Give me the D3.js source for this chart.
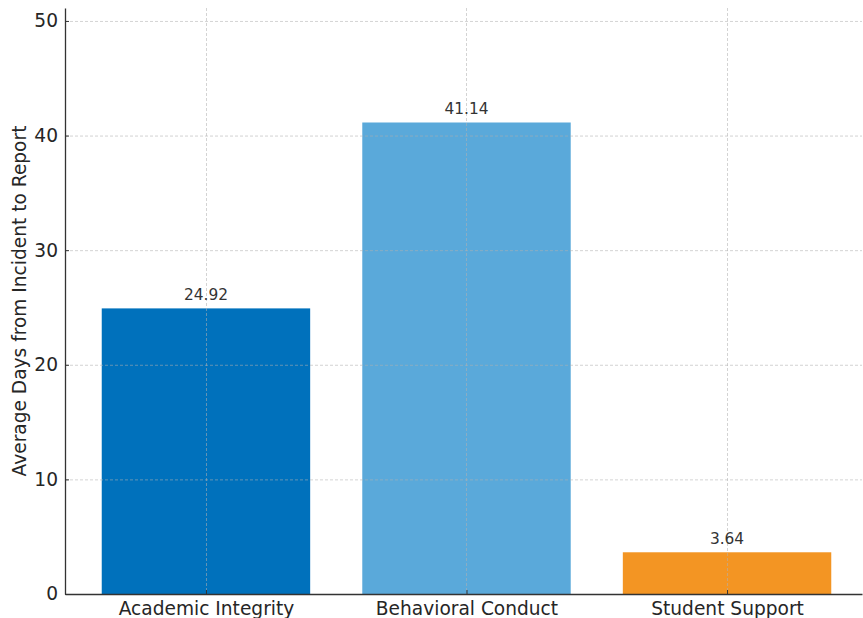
<!DOCTYPE html>
<html>
<head>
<meta charset="utf-8">
<script src="https://cdn.jsdelivr.net/npm/d3@7"></script>
<style>
  html, body { margin: 0; padding: 0; background: #fff; }
  svg { display: block; font-family: "DejaVu Sans", sans-serif; }
</style>
</head>
<body>
<svg id="chart" width="863" height="618"></svg>
<script>
// Average reporting delay per case category
const categories = ["Academic Integrity", "Behavioral Conduct", "Student Support"];
const avgDays = [24.92, 41.14, 3.64];
const barColors = ["#0071bc", "#5aa9da", "#f39523"];
const yTicks = [0, 10, 20, 30, 40, 50];

const svg = d3.select("#chart");
const margin = { left: 65, right: 1, top: 8, bottom: 24 };
const W = 863, H = 618;
const plotBottom = H - margin.bottom;

// Category positions on a continuous index axis, bars 0.8 wide
const x = d3.scaleLinear()
  .domain([-0.541, 2.518])
  .range([margin.left, W - margin.right]);
const y = d3.scaleLinear()
  .domain([0, 51.13])
  .range([plotBottom, margin.top]);

const idx = categories.map((c, i) => i);

// Bars
svg.append("g").selectAll("rect")
  .data(idx)
  .join("rect")
  .attr("x", i => x(i - 0.4))
  .attr("width", i => x(i + 0.4) - x(i - 0.4))
  .attr("y", i => y(avgDays[i]))
  .attr("height", i => y(0) - y(avgDays[i]))
  .attr("fill", i => barColors[i]);

// Dashed grid over the bars
const grid = svg.append("g")
  .attr("stroke", "#b0b0b0")
  .attr("stroke-opacity", 0.7)
  .attr("stroke-width", 0.8)
  .attr("stroke-dasharray", "3,2");
grid.selectAll("line.h")
  .data(yTicks.filter(t => t > 0))
  .join("line")
  .attr("x1", margin.left).attr("x2", W - margin.right)
  .attr("y1", d => y(d) + 0.5).attr("y2", d => y(d) + 0.5);
grid.selectAll("line.v")
  .data(idx)
  .join("line")
  .attr("x1", i => Math.round(x(i)) + 0.5).attr("x2", i => Math.round(x(i)) + 0.5)
  .attr("y1", margin.top).attr("y2", plotBottom);

// Axes with inward ticks
const yAxis = d3.axisLeft(y).tickValues(yTicks).tickSizeInner(-4).tickSizeOuter(0).tickPadding(7);
const xAxis = d3.axisBottom(x).tickValues(idx).tickFormat(i => categories[i])
  .tickSizeInner(-4).tickSizeOuter(0).tickPadding(5);

const gy = svg.append("g")
  .attr("transform", `translate(${margin.left},0)`)
  .call(yAxis);
const gx = svg.append("g")
  .attr("transform", `translate(0,${plotBottom})`)
  .call(xAxis);

[gy, gx].forEach(g => {
  g.select(".domain").attr("stroke", "#333").attr("stroke-width", 1.3);
  g.selectAll(".tick line").attr("stroke", "#333").attr("stroke-width", 1);
  g.selectAll(".tick text")
    .attr("fill", "#262626")
    .attr("font-size", 18.6)
    .attr("font-family", "DejaVu Sans, sans-serif");
});
gx.selectAll(".tick text").attr("dy", "0.85em");

// Value labels above bars
svg.append("g").selectAll("text")
  .data(idx)
  .join("text")
  .attr("x", i => x(i))
  .attr("y", i => y(avgDays[i]) - 8)
  .attr("text-anchor", "middle")
  .attr("font-size", 15.4)
  .attr("fill", "#333")
  .text(i => avgDays[i].toFixed(2));

// Y axis title
svg.append("text")
  .attr("transform", `translate(26,${(margin.top + plotBottom) / 2}) rotate(-90)`)
  .attr("text-anchor", "middle")
  .attr("font-size", 18.6)
  .attr("fill", "#262626")
  .text("Average Days from Incident to Report");
</script>
</body>
</html>
